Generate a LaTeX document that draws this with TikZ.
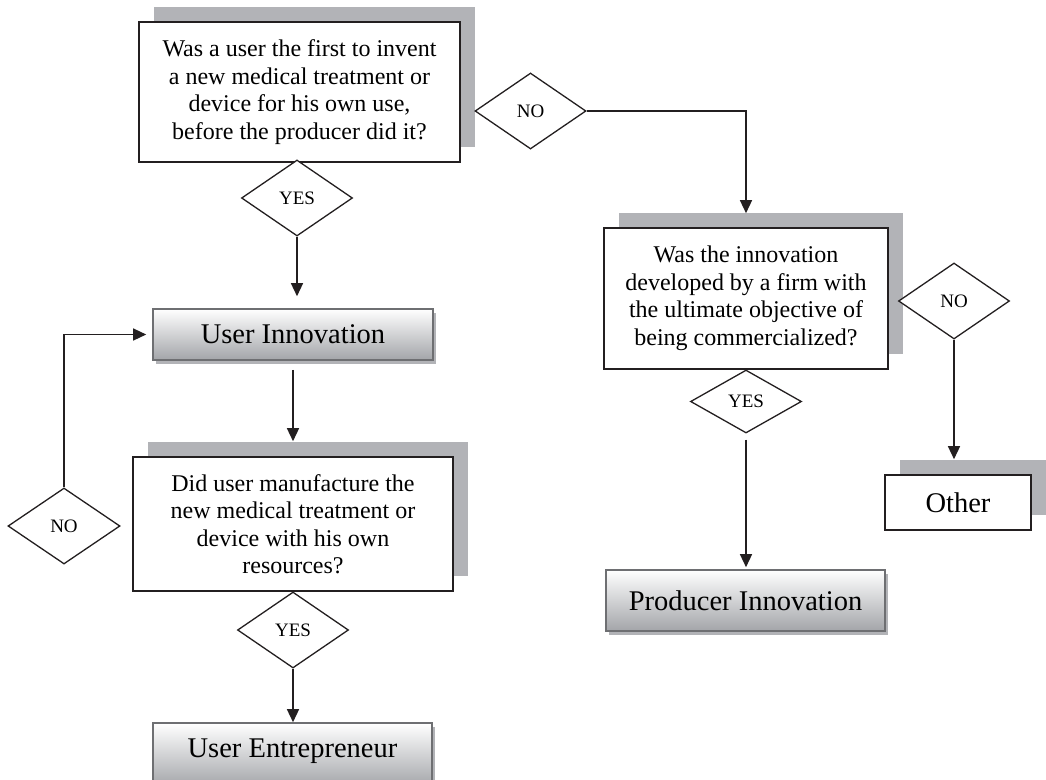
\documentclass[tikz,border=0pt]{standalone}
\usepackage{fontspec}
\setmainfont{Liberation Serif}
\usetikzlibrary{arrows.meta, positioning, shapes.geometric, shadows}
\definecolor{shadowgray}{RGB}{178,179,183}
\definecolor{edgegray}{RGB}{110,111,114}
\definecolor{gradgray}{RGB}{163,165,169}
\definecolor{inkblack}{RGB}{35,31,32}

\begin{document}
\begin{tikzpicture}[x=1pt, y=-1pt, every node/.style={align=center, inner sep=0pt},
  question/.style={draw=inkblack, line width=1.6pt, fill=white, font=\fontsize{24}{27.5}\selectfont,
    drop shadow={shadow xshift=15pt, shadow yshift=15pt, fill=shadowgray, opacity=1}},
  outcome/.style={draw=edgegray, line width=1.6pt, top color=white, bottom color=gradgray,
    font=\fontsize{28.5}{32}\selectfont,
    drop shadow={shadow xshift=3pt, shadow yshift=-4pt, fill=shadowgray, opacity=1}},
  answer/.style={diamond, draw=inkblack, line width=1.3pt, fill=white,
    minimum width=111pt, minimum height=76pt, font=\fontsize{19}{22}\selectfont},
  flow/.style={draw=inkblack, line width=1.4pt, -{Triangle[length=13pt, width=12pt]}}]
\clip (0,0) rectangle (1046,779);

% questions
\node[question, minimum width=321pt, minimum height=140pt] (firstuser) at (299.5,92)
  {Was a user the first to invent\\a new medical treatment or\\device for his own use,\\before the producer did it?};
\node[question, minimum width=320pt, minimum height=134pt] (manufacture) at (293,524)
  {Did user manufacture the\\new medical treatment or\\device with his own\\resources?};
\node[question, minimum width=284pt, minimum height=141pt] (firm) at (746,298.5)
  {Was the innovation\\developed by a firm with\\the ultimate objective of\\being commercialized?};
\node[question, font=\fontsize{28.5}{32}\selectfont, minimum width=146pt, minimum height=55pt] (other) at (958,502.5) {Other};

% outcomes
\node[outcome, minimum width=280pt, minimum height=51pt] (userinno) at (293,334.5) {User Innovation};
\node[outcome, minimum width=279pt, minimum height=64pt, text depth=14pt] (userent) at (292.5,755) {User Entrepreneur};
\node[outcome, minimum width=279pt, minimum height=61pt] (prodinno) at (745.5,600.5) {Producer Innovation};

% answers
\node[answer] (yesfirst) at (297,198) {YES};
\node[answer] (yesmanu) at (293,630) {YES};
\node[answer, minimum width=112pt] (nomanu) at (64,526) {NO};
\node[answer] (nofirst) at (530.5,111) {NO};
\node[answer, minimum height=63pt] (yesfirm) at (746,401.5) {YES};
\node[answer] (nofirm) at (954,301) {NO};

% connectors
\draw[flow, shorten >=12pt] (yesfirst.south) -- (yesfirst.south |- userinno.north);
\draw[flow, shorten <=9pt, shorten >=15pt] (userinno.south) -- (manufacture.north);
\draw[flow] (yesmanu.south) -- (yesmanu.south |- userent.north);
\draw[flow, shorten >=6pt] (nomanu.north) |- (userinno.west);
\draw[flow, shorten >=14pt] (nofirst.east) -| (firm.north);
\draw[flow, shorten <=6pt, shorten >=2pt] (yesfirm.south) -- (yesfirm.south |- prodinno.north);
\draw[flow, shorten >=15pt] (nofirm.south) -- (nofirm.south |- other.north);
\end{tikzpicture}
\end{document}
